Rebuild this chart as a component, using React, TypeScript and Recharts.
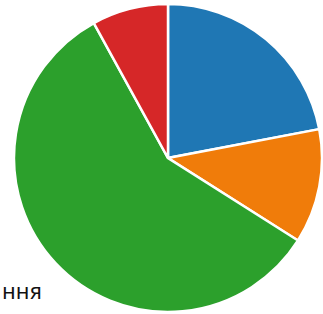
import React from 'react';
import { PieChart, Pie, Cell } from 'recharts';

const categories = ['A', 'B', 'C', 'D'];
const values = [22, 12, 58, 8];
const colors = ['#1f77b4', '#f07c0a', '#2ca02c', '#d62728'];

const data = categories.map((name, i) => ({ name, value: values[i] }));

export default function App() {
  return (
    <div
      style={{
        position: 'relative',
        width: 323,
        height: 314,
        overflow: 'hidden',
        fontFamily: '"DejaVu Sans", sans-serif'
      }}
    >
      <style>{'html, body { margin: 0; padding: 0; overflow: hidden; }'}</style>
      <PieChart width={323} height={314} margin={{ top: 0, right: 0, bottom: 0, left: 0 }}>
        <Pie
          data={data}
          dataKey="value"
          nameKey="name"
          cx={168}
          cy={158}
          outerRadius={154}
          startAngle={90}
          endAngle={-270}
          stroke="#ffffff"
          strokeWidth={2.5}
          isAnimationActive={false}
        >
          {data.map((d, i) => (
            <Cell key={d.name} fill={colors[i]} />
          ))}
        </Pie>
      </PieChart>
      <div
        style={{
          position: 'absolute',
          right: 323 - 42,
          top: 280,
          fontSize: 21,
          color: '#111',
          whiteSpace: 'nowrap',
          lineHeight: '24px'
        }}
      >
        ння
      </div>
    </div>
  );
}
